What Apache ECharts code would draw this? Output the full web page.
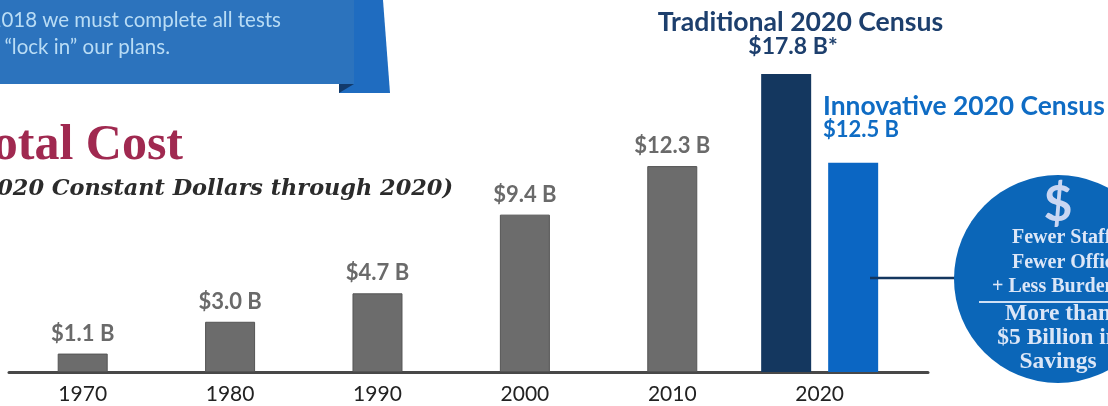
<!DOCTYPE html>
<html>
<head>
<meta charset="utf-8">
<style>html,body{margin:0;padding:0;background:#fff;overflow:hidden}#c{width:1108px;height:406px}</style>
<script src="https://cdn.jsdelivr.net/npm/echarts@6/dist/echarts.min.js"></script>
</head>
<body>
<div id="c"></div>
<script>
const decades = [1970, 1980, 1990, 2000, 2010];
const decadeCosts = [1.1, 3.0, 4.7, 9.4, 12.3];
const decadeLabels = ['$1.1 B', '$3.0 B', '$4.7 B', '$9.4 B', '$12.3 B'];
const censusYear = 2020;
const traditionalCost = 17.8;
const innovativeCost = 12.5;
const tickYears = [1970, 1980, 1990, 2000, 2010, 2020];
const bannerLines = ['By 2018 we must complete all tests', 'to \u201clock in\u201d our plans.'];
const circleLines = ['Fewer Staff', 'Fewer Offices', '+ Less Burden', 'More than', '$5 Billion in', 'Savings'];

const chart = echarts.init(document.getElementById('c'), null, {renderer: 'canvas'});
const sans = 'Lato, "Open Sans", sans-serif';
const serif = '"Liberation Serif", "DejaVu Serif", serif';
const txt = (x, y, text, font, fill, align, extra) => ({
  type: 'text', x, y, z: 10,
  style: Object.assign({text, font, fill, textAlign: align || 'left', textVerticalAlign: 'middle'}, extra || {})
});
const circleYs = [238, 263, 287, 314, 338, 362];
const circleXs = [1012, 1012, 992, 1058, 1058, 1058];
const circleAligns = ['left', 'left', 'left', 'center', 'center', 'center'];

chart.setOption({
  animation: false,
  backgroundColor: '#ffffff',
  grid: {left: 9, right: 180, top: 74, bottom: 34},
  xAxis: [
    {type: 'value', min: 1965, max: 2027.35, splitLine: {show: false},
     axisLine: {show: true, onZero: true, lineStyle: {color: '#484848', width: 3}},
     axisTick: {show: false},
     axisLabel: {customValues: tickYears, formatter: v => String(v), color: '#222', fontFamily: sans, fontSize: 21, margin: 12, hideOverlap: false}},
    {type: 'value', min: 1965, max: 2027.35, show: false, splitLine: {show: false}}
  ],
  yAxis: {type: 'value', min: 0, max: traditionalCost, show: false, splitLine: {show: false}},
  series: [
    {type: 'bar', name: 'Decennial', xAxisIndex: 0, barWidth: 50,
     data: decades.map((y, i) => [y, decadeCosts[i]]),
     itemStyle: {color: '#6c6c6c', borderColor: '#555', borderWidth: 1},
     label: {show: true, position: 'top', distance: 9, color: '#6a6a6a', fontFamily: sans, fontWeight: 'bold', fontSize: 22,
             formatter: p => decadeLabels[p.dataIndex]}},
    {type: 'bar', name: 'Traditional 2020 Census', xAxisIndex: 1, barWidth: 50, barGap: '34%',
     data: [[censusYear, traditionalCost]], itemStyle: {color: '#14375f'}},
    {type: 'bar', name: 'Innovative 2020 Census', xAxisIndex: 1, barWidth: 50, barGap: '34%',
     data: [[censusYear, innovativeCost]], itemStyle: {color: '#0b66c3'}}
  ],
  graphic: [
    // banner
    {type: 'polygon', shape: {points: [[339,0],[383,0],[390,93],[339,93]]}, style: {fill: '#1f6cc0'}, z: 1},
    {type: 'rect', shape: {x: 0, y: 0, width: 354, height: 84}, style: {fill: '#2c73bd'}, z: 2},
    {type: 'polygon', shape: {points: [[339,84],[354,84],[339,93]]}, style: {fill: '#123a6b'}, z: 3},
    txt(281, 20, bannerLines[0], '20.5px ' + sans, '#b9dcf5', 'right'),
    txt(170, 47, bannerLines[1], '20.5px ' + sans, '#b9dcf5', 'right'),
    // titles
    txt(183, 146, 'Total Cost', 'bold 50px ' + serif, '#a02950', 'right'),
    txt(453, 189, '(in 2020 Constant Dollars through 2020)', 'italic bold 22.4px "DejaVu Serif", serif', '#2b2b2b', 'right'),
    // 2020 labels
    txt(800.5, 22, 'Traditional 2020 Census', 'bold 26.6px ' + sans, '#1d3f6d', 'center'),
    txt(793, 47, '$17.8 B*', 'bold 23px ' + sans, '#1d3f6d', 'center'),
    txt(823, 106, 'Innovative 2020 Census', 'bold 26.4px ' + sans, '#0f6cc4'),
    txt(823, 130, '$12.5 B', 'bold 22px ' + sans, '#0f6cc4'),
    // callout
    {type: 'line', shape: {x1: 870, y1: 278, x2: 956, y2: 278}, style: {stroke: '#14375f', lineWidth: 2.5}, z: 5},
    {type: 'circle', shape: {cx: 1058, cy: 279, r: 104}, style: {fill: '#0b66b8'}, z: 6},
    {type: 'line', shape: {x1: 979, y1: 302, x2: 1108, y2: 302}, style: {stroke: '#cfe0f5', lineWidth: 2}, z: 7},
    txt(1058, 205, '$', 'bold 50px ' + sans, '#c9d6f2', 'center')
  ].concat(circleLines.map((s, i) => txt(circleXs[i], circleYs[i], s,
    (i < 3 ? 'bold 20px ' : 'bold 23.5px ') + serif, '#dbe6f7', circleAligns[i])))
});
</script>
</body>
</html>
